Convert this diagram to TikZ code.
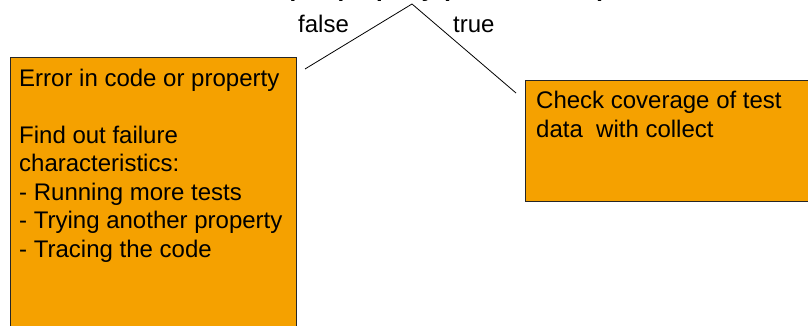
\documentclass[tikz,border=0pt]{standalone}
\usepackage{fontspec}
\setmainfont{Liberation Sans}
\definecolor{boxorange}{RGB}{245,161,0}
\begin{document}
\begin{tikzpicture}[x=1pt,y=-1pt,
  box/.style={draw=black!85,line width=0.8pt,fill=boxorange,inner sep=0pt,anchor=north west},
  txt/.style={font=\fontsize{24}{28.4}\selectfont,inner sep=0pt,align=left,anchor=base west},
  conn/.style={draw=black,line width=0.8pt}]
\useasboundingbox (0,0) rectangle (808,326);
\clip (0,0) rectangle (808,326);
\node[box,minimum width=286pt,minimum height=290pt] (errbox) at (10,57) {};
\node[box,minimum width=300pt,minimum height=121pt] (covbox) at (525,80) {};
\node[txt] (errtext) at (19,257) {Error in code or property\\[28.4pt]Find out failure\\characteristics:\\- Running more tests\\- Trying another property\\- Tracing the code};
\node[txt] (covtext) at (536,137) {Check coverage of test\\data\ \ with collect};
\node[txt,font=\bfseries\fontsize{24}{28}\selectfont] (title) at (236,-3.6) {Compile property (100 test runs)};
\node[txt] (false) at (298,33) {false};
\node[txt] (true) at (453,33) {true};
\coordinate (apex) at (412,4);
\coordinate (lend) at (305,69);
\coordinate (rend) at (516,93);
\draw[conn] (lend) -- (apex) -- (rend);
\end{tikzpicture}
\end{document}
